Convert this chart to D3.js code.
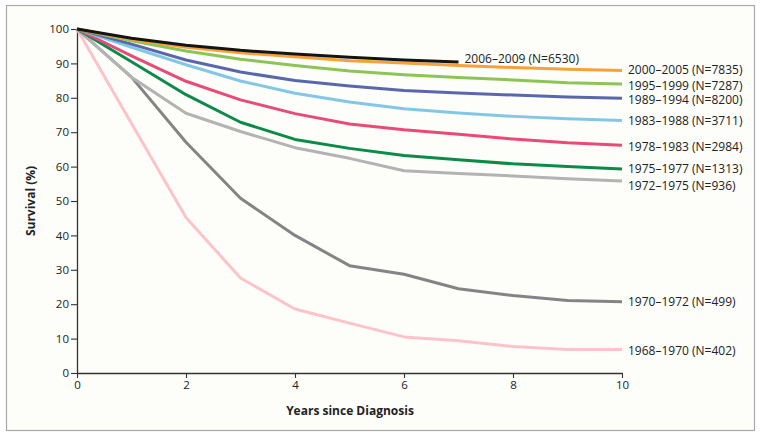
<script src="https://d3js.org/d3.v7.min.js"></script>

<style>
    body { margin: 0; background: #fff; }
    text { font-family: "Open Sans", sans-serif; fill: #222; }
</style>

<div id="canvas"></div>

<script>
    const width = 762;
    const height = 438;

    // Years since diagnosis (0..10)
    const years = [0, 1, 2, 3, 4, 5, 6, 7, 8, 9, 10];

    // Survival (%) per diagnosis period
    const s2006 = [100, 97.3, 95.3, 93.8, 92.7, 91.8, 91.0, 90.4];
    const s2000 = [100, 97.0, 94.7, 93.1, 91.9, 90.8, 90.1, 89.4, 88.8, 88.3, 87.9];
    const s1995 = [100, 96.6, 93.6, 91.2, 89.4, 87.8, 86.7, 85.9, 85.2, 84.4, 84.0];
    const s1989 = [100, 95.6, 91.0, 87.5, 85.0, 83.4, 82.1, 81.4, 80.8, 80.2, 79.9];
    const s1983 = [100, 94.7, 89.6, 84.9, 81.3, 78.8, 76.8, 75.6, 74.6, 73.9, 73.4];
    const s1978 = [100, 92.2, 84.8, 79.4, 75.4, 72.4, 70.7, 69.4, 68.0, 66.9, 66.2];
    const s1975 = [100, 90.5, 80.9, 72.9, 67.9, 65.3, 63.2, 62.0, 60.8, 60.0, 59.3];
    const s1972 = [100, 86.0, 75.5, 70.2, 65.5, 62.4, 58.8, 58.0, 57.3, 56.5, 55.8];
    const s1970 = [100, 86.0, 67.1, 50.8, 40.0, 31.2, 28.7, 24.5, 22.5, 21.1, 20.7];
    const s1968 = [100, 72.5, 45.2, 27.6, 18.6, 14.5, 10.5, 9.4, 7.7, 6.8, 6.8];

    const seriesLabels = [
        "2006–2009 (N=6530)", "2000–2005 (N=7835)", "1995–1999 (N=7287)",
        "1989–1994 (N=8200)", "1983–1988 (N=3711)", "1978–1983 (N=2984)",
        "1975–1977 (N=1313)", "1972–1975 (N=936)", "1970–1972 (N=499)",
        "1968–1970 (N=402)"
    ];
    const seriesValues = [s2006, s2000, s1995, s1989, s1983, s1978, s1975, s1972, s1970, s1968];

    const xTicks = [0, 2, 4, 6, 8, 10];
    const yTicks = [0, 10, 20, 30, 40, 50, 60, 70, 80, 90, 100];

    // Styling
    const colors = ["#141414", "#f7a03c", "#8dc457", "#5a68ab", "#83c7e7",
        "#e84b78", "#0b8a48", "#b3b3b3", "#848484", "#fcc3ca"];
    const labelNudge = [-3, -0.5, 1.5, 1.5, 0.5, 1.5, 0, 5, 0, 1];

    const margin = {left: 77, right: 140, top: 29, bottom: 65};

    const svg = d3.select("#canvas")
        .append("svg")
        .attr("width", width)
        .attr("height", height);

    // Panel frame
    svg.append("rect")
        .attr("x", 6.5)
        .attr("y", 5.5)
        .attr("width", 748)
        .attr("height", 425)
        .attr("fill", "#fdfdfa")
        .attr("stroke", "#a9a9a9")
        .attr("stroke-width", 1.2);

    const x = d3.scaleLinear()
        .domain([0, 10])
        .range([margin.left, width - margin.right]);

    const y = d3.scaleLinear()
        .domain([0, 100])
        .range([height - margin.bottom, margin.top]);

    // Axes
    const xAxis = svg.append("g")
        .attr("transform", `translate(0,${y(0)})`)
        .call(d3.axisBottom(x).tickValues(xTicks).tickSize(5).tickSizeOuter(0).tickPadding(3));

    const yAxis = svg.append("g")
        .attr("transform", `translate(${x(0)},0)`)
        .call(d3.axisLeft(y).tickValues(yTicks).tickSize(6).tickSizeOuter(0).tickPadding(2));

    for (const axis of [xAxis, yAxis]) {
        axis.select(".domain").attr("stroke", "#333").attr("stroke-width", 1.3);
        axis.selectAll(".tick line").attr("stroke", "#333").attr("stroke-width", 1.1);
        axis.selectAll(".tick text")
            .attr("font-family", "Open Sans, sans-serif")
            .attr("font-size", 11.5)
            .attr("fill", "#222");
    }

    svg.append("text")
        .attr("x", 350)
        .attr("y", 415)
        .attr("text-anchor", "middle")
        .attr("font-size", 12)
        .attr("font-weight", "bold")
        .text("Years since Diagnosis");

    svg.append("text")
        .attr("transform", "translate(35,201) rotate(-90)")
        .attr("text-anchor", "middle")
        .attr("font-size", 12)
        .attr("font-weight", "bold")
        .text("Survival (%)");

    // Survival curves
    const line = d3.line()
        .x((d, i) => x(years[i]))
        .y(d => y(d));

    const series = seriesValues.map((values, i) => ({
        label: seriesLabels[i],
        values,
        color: colors[i],
        nudge: labelNudge[i]
    }));

    // draw oldest first so newer curves sit on top
    svg.selectAll("path.curve")
        .data(series.slice().reverse())
        .enter()
        .append("path")
        .attr("class", "curve")
        .attr("d", d => line(d.values))
        .attr("fill", "none")
        .attr("stroke", d => d.color)
        .attr("stroke-width", 3)
        .attr("stroke-linejoin", "round");

    svg.selectAll("text.label")
        .data(series)
        .enter()
        .append("text")
        .attr("class", "label")
        .attr("x", d => x(years[d.values.length - 1]) + 6)
        .attr("y", d => y(d.values[d.values.length - 1]) + d.nudge)
        .attr("dy", "0.36em")
        .attr("font-size", 12)
        .text(d => d.label);
</script>
